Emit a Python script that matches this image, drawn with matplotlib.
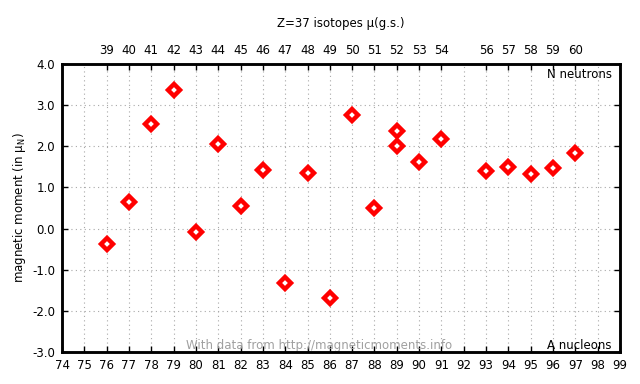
import matplotlib
matplotlib.use("Agg")
import matplotlib.pyplot as plt
import numpy as np

Z = 37
mass_numbers = [76, 77, 78, 79, 80, 81, 82, 83, 84, 85, 86, 87, 88, 89, 89, 90, 91, 93, 94, 95, 96, 97]
moments = [-0.37, 0.65, 2.55, 3.36, -0.08, 2.05, 0.55, 1.42, -1.32, 1.35, -1.69, 2.75, 0.50, 2.37, 2.00, 1.62, 2.18, 1.41, 1.50, 1.33, 1.47, 1.84]
x_ticks = list(range(74, 100))
y_ticks = [-3.0, -2.0, -1.0, 0.0, 1.0, 2.0, 3.0, 4.0]

FS = 8.5
plt.rcParams['font.family'] = ['DejaVu Sans']
plt.rcParams['mathtext.default'] = 'regular'
fig = plt.figure(figsize=(6.4, 3.84), dpi=100)
ax = fig.add_axes([62/640, 1-352/384, (620-62)/640, (352-64)/384])

ax.set_xlim(74, 99)
ax.set_ylim(-3, 4)
ax.set_xticks(x_ticks)
ax.set_xticklabels([str(t) for t in x_ticks], fontsize=FS)
ax.set_yticks(y_ticks)
ax.set_yticklabels([f"{t:.1f}" for t in y_ticks], fontsize=FS)
ax.grid(True, color='#a8a8a8', linestyle=(0, (1, 3)), linewidth=0.8)
ax.set_axisbelow(True)
ax.tick_params(direction='in', length=4, width=1, top=False, right=True, pad=5)
for s in ax.spines.values():
    s.set_linewidth(1.8)

ax.plot(mass_numbers, moments, linestyle='none', marker='D', markersize=6,
        markerfacecolor='white', markeredgecolor='#ff0000', markeredgewidth=3.2, zorder=5)

# top axis: neutron numbers
ax2 = ax.twiny()
ax2.set_xlim(ax.get_xlim())
top_pos = sorted(set(mass_numbers))
ax2.set_xticks(top_pos)
ax2.set_xticklabels([str(a - Z) for a in top_pos], fontsize=FS)
ax2.tick_params(direction='in', length=4, width=1, pad=5)
for s in ax2.spines.values():
    s.set_linewidth(1.8)

ax.set_ylabel("magnetic moment (in $μ_N$)", fontsize=FS, labelpad=3)
fig.text((62 + 620) / 2 / 640, 1 - 24/384, "Z=37 isotopes μ(g.s.)", ha='center', va='center', fontsize=FS)
ax.text(0.985, 0.985, "N neutrons", transform=ax.transAxes, ha='right', va='top', fontsize=FS)
ax.text(0.985, 0.0, "A nucleons", transform=ax.transAxes, ha='right', va='bottom', fontsize=FS)
ax.text(0.46, 0.0, "With data from http://magneticmoments.info", transform=ax.transAxes,
        ha='center', va='bottom', fontsize=FS, color='#a0a0a0', zorder=1)

fig.savefig("out.png", dpi=100)
